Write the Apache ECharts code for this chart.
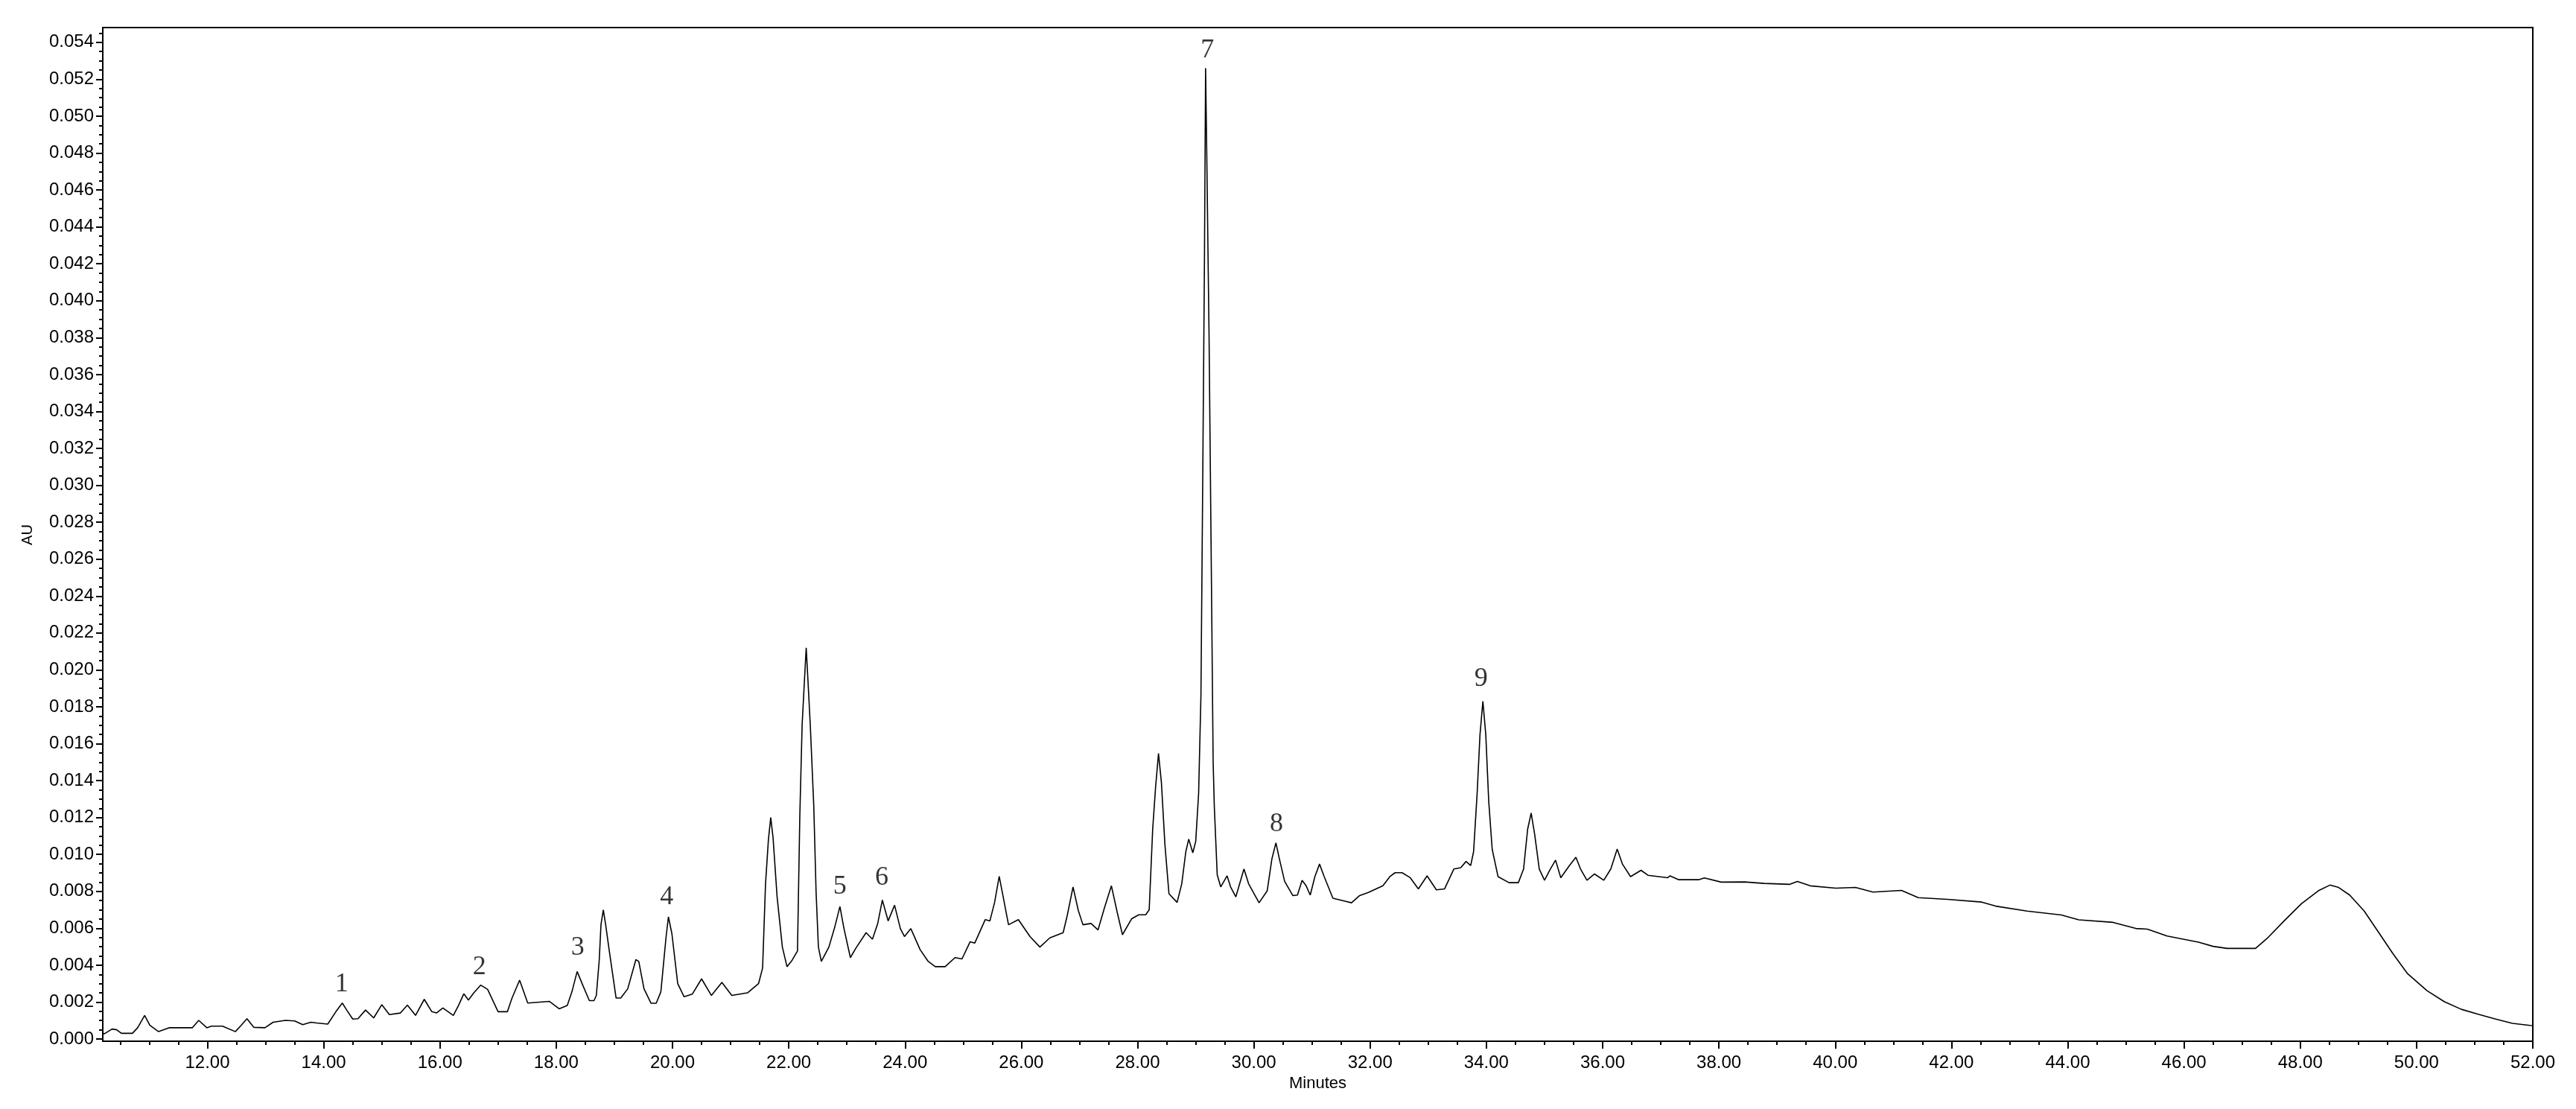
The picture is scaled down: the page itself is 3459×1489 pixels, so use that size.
<!DOCTYPE html>
<html>
<head>
<meta charset="utf-8">
<script src="https://cdn.jsdelivr.net/npm/echarts@6/dist/echarts.min.js"></script>
<style>
html, body { margin: 0; padding: 0; background: #fff; }
#chromatogram { width: 3459px; height: 1489px; }
</style>
</head>
<body>
<div id="chromatogram"></div>
<script>
// Chromatogram trace, [minutes, AU] in four stretches
var traceEarly = [
    [10.20, 0.00030], [10.23, 0.00029], [10.36, 0.00054], [10.44, 0.00050], [10.52, 0.00031],
    [10.71, 0.00031], [10.80, 0.00061], [10.92, 0.00128], [11.01, 0.00074], [11.16, 0.00040],
    [11.34, 0.00061], [11.74, 0.00061], [11.85, 0.00101], [11.99, 0.00061], [12.07, 0.00070],
    [12.26, 0.00070], [12.48, 0.00040], [12.58, 0.00074], [12.68, 0.00110], [12.80, 0.00063],
    [12.99, 0.00061], [13.13, 0.00091], [13.34, 0.00101], [13.50, 0.00098], [13.64, 0.00078],
    [13.78, 0.00091], [13.88, 0.00087], [14.07, 0.00081], [14.21, 0.00148], [14.32, 0.00195],
    [14.40, 0.00155], [14.50, 0.00108], [14.59, 0.00110], [14.72, 0.00157], [14.86, 0.00114],
    [15.00, 0.00186], [15.13, 0.00132], [15.32, 0.00141], [15.44, 0.00184], [15.58, 0.00128],
    [15.73, 0.00215], [15.86, 0.00148], [15.94, 0.00141], [16.05, 0.00168], [16.23, 0.00128],
    [16.32, 0.00182], [16.41, 0.00245], [16.49, 0.00211], [16.58, 0.00249], [16.70, 0.00292],
    [16.82, 0.00269], [17.00, 0.00148], [17.16, 0.00148], [17.24, 0.00222], [17.37, 0.00319],
    [17.51, 0.00195], [17.88, 0.00204], [18.05, 0.00164], [18.19, 0.00182], [18.27, 0.00256],
    [18.36, 0.00366], [18.46, 0.00289], [18.57, 0.00208], [18.65, 0.00208]
];
var traceMiddle = [
    [18.69, 0.00236], [18.74, 0.00428], [18.77, 0.00620], [18.81, 0.00700], [18.85, 0.00620],
    [18.91, 0.00484], [19.03, 0.00222], [19.11, 0.00222], [19.23, 0.00272], [19.37, 0.00430],
    [19.42, 0.00420], [19.51, 0.00272], [19.63, 0.00194], [19.72, 0.00194], [19.80, 0.00256],
    [19.89, 0.00555], [19.93, 0.00662], [19.99, 0.00570], [20.09, 0.00300], [20.20, 0.00229],
    [20.34, 0.00243], [20.50, 0.00326], [20.67, 0.00236], [20.85, 0.00307], [21.02, 0.00236],
    [21.29, 0.00250], [21.48, 0.00300], [21.55, 0.00385], [21.60, 0.00839], [21.65, 0.01080],
    [21.69, 0.01200], [21.73, 0.01090], [21.80, 0.00768], [21.89, 0.00498], [21.97, 0.00392],
    [22.06, 0.00428], [22.15, 0.00477], [22.19, 0.01207], [22.23, 0.01703], [22.27, 0.01944],
    [22.30, 0.02119], [22.33, 0.01944], [22.37, 0.01703], [22.43, 0.01264], [22.47, 0.00796],
    [22.51, 0.00498], [22.56, 0.00420], [22.69, 0.00498], [22.79, 0.00605], [22.88, 0.00718],
    [22.95, 0.00598], [23.06, 0.00441], [23.15, 0.00490], [23.33, 0.00576], [23.44, 0.00541],
    [23.53, 0.00626], [23.61, 0.00753], [23.71, 0.00640], [23.82, 0.00725], [23.92, 0.00598],
    [23.99, 0.00555], [24.10, 0.00598], [24.26, 0.00484], [24.40, 0.00420], [24.52, 0.00392],
    [24.69, 0.00392], [24.86, 0.00441], [24.98, 0.00434], [25.12, 0.00527], [25.20, 0.00520],
    [25.38, 0.00647], [25.46, 0.00640], [25.54, 0.00739], [25.62, 0.00881], [25.69, 0.00767],
    [25.78, 0.00619], [25.95, 0.00647], [26.15, 0.00555], [26.32, 0.00498], [26.49, 0.00548],
    [26.72, 0.00576], [26.79, 0.00669], [26.89, 0.00824], [26.98, 0.00697], [27.06, 0.00619],
    [27.20, 0.00626], [27.32, 0.00591], [27.43, 0.00710], [27.55, 0.00830]
];
var traceLate = [
    [27.65, 0.00686], [27.74, 0.00565], [27.90, 0.00652], [28.02, 0.00673], [28.14, 0.00673],
    [28.20, 0.00700], [28.26, 0.01137], [28.31, 0.01365], [28.36, 0.01547], [28.41, 0.01390],
    [28.47, 0.01056], [28.54, 0.00787], [28.68, 0.00740], [28.76, 0.00841], [28.83, 0.01015],
    [28.88, 0.01083], [28.95, 0.01009], [29.00, 0.01070], [29.05, 0.01330], [29.09, 0.01860],
    [29.12, 0.03000], [29.15, 0.04200], [29.17, 0.05260], [29.19, 0.04800], [29.23, 0.03800],
    [29.27, 0.02500], [29.30, 0.01500], [29.32, 0.01260], [29.37, 0.00890], [29.43, 0.00824],
    [29.54, 0.00884], [29.60, 0.00824], [29.69, 0.00770], [29.83, 0.00921], [29.91, 0.00841],
    [30.09, 0.00738], [30.23, 0.00803], [30.31, 0.00975], [30.38, 0.01063], [30.44, 0.00975],
    [30.53, 0.00854], [30.67, 0.00777], [30.75, 0.00780], [30.83, 0.00860], [30.90, 0.00830],
    [30.97, 0.00780], [31.05, 0.00880], [31.13, 0.00948], [31.21, 0.00880], [31.36, 0.00763],
    [31.57, 0.00747], [31.68, 0.00738], [31.82, 0.00777], [31.97, 0.00794], [32.22, 0.00830],
    [32.34, 0.00880], [32.43, 0.00901], [32.55, 0.00901], [32.69, 0.00874], [32.83, 0.00813],
    [32.98, 0.00884], [33.14, 0.00808], [33.28, 0.00813], [33.44, 0.00921], [33.56, 0.00928],
    [33.65, 0.00962], [33.73, 0.00940], [33.78, 0.01015], [33.84, 0.01325], [33.89, 0.01648],
    [33.94, 0.01830], [33.99, 0.01648], [34.04, 0.01290], [34.10, 0.01028], [34.20, 0.00880],
    [34.39, 0.00847], [34.55, 0.00847], [34.64, 0.00921], [34.71, 0.01137], [34.77, 0.01224],
    [34.83, 0.01110], [34.91, 0.00921], [35.00, 0.00860], [35.10, 0.00921], [35.19, 0.00969],
    [35.28, 0.00874], [35.43, 0.00940], [35.54, 0.00985], [35.62, 0.00921], [35.73, 0.00860],
    [35.86, 0.00894], [36.02, 0.00860], [36.14, 0.00921], [36.25, 0.01029], [36.34, 0.00948],
    [36.48, 0.00880], [36.66, 0.00914], [36.78, 0.00887], [37.12, 0.00874]
];
var traceTail = [
    [37.16, 0.00884], [37.31, 0.00863], [37.65, 0.00863], [37.75, 0.00873], [38.04, 0.00850],
    [38.44, 0.00851], [38.78, 0.00843], [39.22, 0.00838], [39.35, 0.00854], [39.57, 0.00830],
    [40.01, 0.00817], [40.35, 0.00821], [40.65, 0.00796], [41.14, 0.00805], [41.43, 0.00766],
    [41.93, 0.00757], [42.52, 0.00742], [42.76, 0.00720], [43.30, 0.00693], [43.89, 0.00672],
    [44.19, 0.00646], [44.78, 0.00632], [45.17, 0.00599], [45.37, 0.00595], [45.71, 0.00558],
    [46.25, 0.00525], [46.50, 0.00502], [46.74, 0.00491], [47.23, 0.00491], [47.43, 0.00545],
    [47.72, 0.00639], [48.02, 0.00733], [48.31, 0.00803], [48.51, 0.00834], [48.66, 0.00821],
    [48.85, 0.00780], [49.10, 0.00693], [49.39, 0.00558], [49.59, 0.00464], [49.84, 0.00356],
    [50.18, 0.00262], [50.48, 0.00202], [50.77, 0.00161], [51.06, 0.00134], [51.36, 0.00108],
    [51.65, 0.00085], [51.95, 0.00074], [52.00, 0.00073]
];

// Peak numbers and where each number sits [minutes, AU]
var peakNames = ['1', '2', '3', '4', '5', '6', '7', '8', '9'];
var peakLabelPos = [
    [14.31, 0.00295], [16.68, 0.00391], [18.37, 0.00496], [19.90, 0.00768], [22.88, 0.00827],
    [23.60, 0.00874], [29.20, 0.05357], [30.39, 0.01163], [33.91, 0.01950]
];

// Axis ranges and ticks
var xRange = [10.2, 52];
var yRange = [-0.00012, 0.0548];
var xMajorTicks = [12, 14, 16, 18, 20, 22, 24, 26, 28, 30, 32, 34, 36, 38, 40, 42, 44, 46, 48, 50, 52];
var yMajorTicks = [0, 0.002, 0.004, 0.006, 0.008, 0.010, 0.012, 0.014, 0.016, 0.018, 0.020, 0.022, 0.024, 0.026,
    0.028, 0.030, 0.032, 0.034, 0.036, 0.038, 0.040, 0.042, 0.044, 0.046, 0.048, 0.050, 0.052, 0.054];

var xMinorTicks = [];
for (var i = 21; i <= 103; i++) {
    if (i % 4 !== 0) xMinorTicks.push(i / 2);
}
var yMinorTicks = [];
for (var j = 1; j <= 109; j++) {
    if (j % 4 !== 0) yMinorTicks.push(j * 0.0005);
}

var trace = traceEarly.concat(traceMiddle, traceLate, traceTail);
var peakData = peakNames.map(function (n, k) {
    return { name: n, value: peakLabelPos[k] };
});

var black = '#000';
var sans = 'Liberation Sans';

var chart = echarts.init(document.getElementById('chromatogram'));

option = {
    animation: false,
    backgroundColor: '#fff',
    grid: {
        left: 138,
        right: 58,
        top: 37,
        bottom: 91,
        show: true,
        borderColor: black,
        borderWidth: 2
    },
    xAxis: [
        {
            type: 'value',
            position: 'bottom',
            min: xRange[0],
            max: xRange[1],
            name: 'Minutes',
            nameLocation: 'middle',
            nameGap: 46,
            nameTextStyle: { fontFamily: sans, fontSize: 22, color: black },
            axisLine: { onZero: false, lineStyle: { color: black, width: 2 } },
            axisTick: { customValues: xMajorTicks, length: 10, lineStyle: { color: black, width: 2 } },
            axisLabel: {
                customValues: xMajorTicks,
                margin: 17,
                fontFamily: sans,
                fontSize: 24,
                color: black,
                formatter: function (v) { return v.toFixed(2); }
            },
            splitLine: { show: false }
        },
        {
            type: 'value',
            position: 'bottom',
            min: xRange[0],
            max: xRange[1],
            axisLine: { show: false, onZero: false },
            axisTick: { customValues: xMinorTicks, length: 5, lineStyle: { color: black, width: 2 } },
            axisLabel: { show: false },
            splitLine: { show: false }
        }
    ],
    yAxis: [
        {
            type: 'value',
            position: 'left',
            min: yRange[0],
            max: yRange[1],
            axisLine: { show: true, onZero: false, lineStyle: { color: black, width: 2 } },
            axisTick: { show: true, customValues: yMajorTicks, length: 9, lineStyle: { color: black, width: 2 } },
            axisLabel: {
                customValues: yMajorTicks,
                margin: 12,
                fontFamily: sans,
                fontSize: 24,
                color: black,
                formatter: function (v) { return v.toFixed(3); }
            },
            splitLine: { show: false }
        },
        {
            type: 'value',
            position: 'left',
            min: yRange[0],
            max: yRange[1],
            axisLine: { show: false, onZero: false },
            axisTick: { show: true, customValues: yMinorTicks, length: 5, lineStyle: { color: black, width: 2 } },
            axisLabel: { show: false },
            splitLine: { show: false }
        }
    ],
    graphic: [
        {
            type: 'text',
            x: 37,
            y: 718,
            rotation: Math.PI / 2,
            style: {
                text: 'AU',
                font: '20px "Liberation Sans"',
                fill: black,
                textAlign: 'center',
                textVerticalAlign: 'middle'
            }
        }
    ],
    series: [
        {
            name: 'trace',
            type: 'line',
            xAxisIndex: 0,
            yAxisIndex: 0,
            data: trace,
            showSymbol: false,
            smooth: false,
            lineStyle: { color: black, width: 1.6 },
            silent: true
        },
        {
            name: 'peaks',
            type: 'scatter',
            xAxisIndex: 0,
            yAxisIndex: 0,
            data: peakData,
            symbolSize: 0,
            silent: true,
            label: {
                show: true,
                position: 'inside',
                formatter: '{b}',
                fontFamily: 'Liberation Serif',
                fontSize: 36,
                color: black
            }
        }
    ]
};

chart.setOption(option);

window.addEventListener('resize', function () {
    if (chart != null && chart != undefined) {
        chart.resize();
    }
});
</script>
</body>
</html>
